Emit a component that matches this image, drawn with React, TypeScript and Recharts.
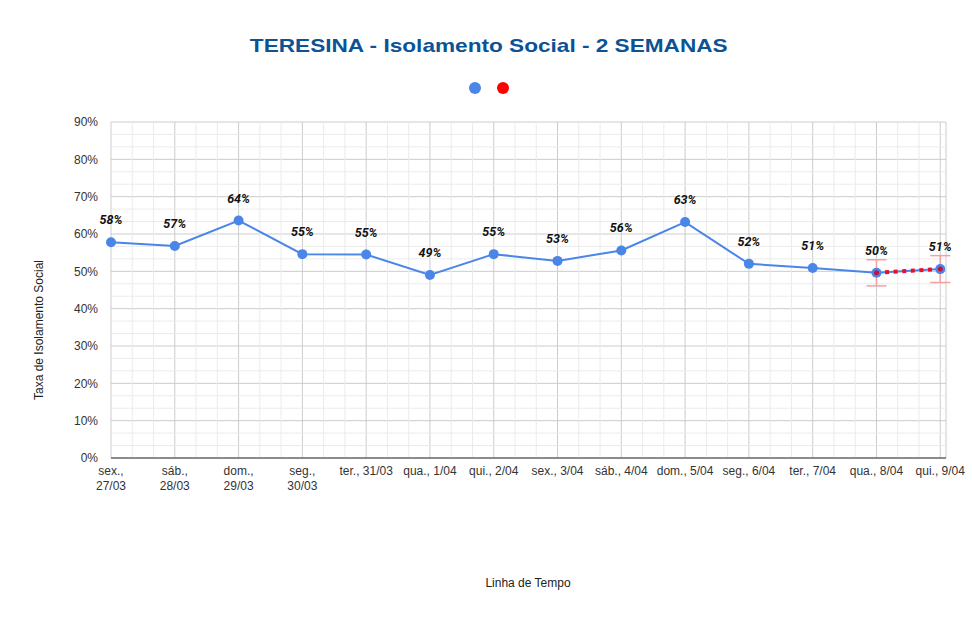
import React from 'react';
import {
  LineChart,
  Line,
  XAxis,
  YAxis,
  CartesianGrid,
  LabelList,
  ErrorBar,
  ReferenceLine,
} from 'recharts';

// Day labels (first four wrap onto two lines, as in the sheet)
const categories = [
  'sex.,\n27/03',
  'sáb.,\n28/03',
  'dom.,\n29/03',
  'seg.,\n30/03',
  'ter., 31/03',
  'qua., 1/04',
  'qui., 2/04',
  'sex., 3/04',
  'sáb., 4/04',
  'dom., 5/04',
  'seg., 6/04',
  'ter., 7/04',
  'qua., 8/04',
  'qui., 9/04',
];

// Taxa de isolamento (%)
const isolamento = [57.8, 56.8, 63.6, 54.6, 54.5, 49.0, 54.6, 52.8, 55.6, 63.2, 52.0, 50.9, 49.6, 50.6];

// Projection segment (last two days) and its error margin
const tendencia = [null, null, null, null, null, null, null, null, null, null, null, null, 49.6, 50.6];
const margemErro = [null, null, null, null, null, null, null, null, null, null, null, null, 3.5, 3.6];

const yTicks = [0, 10, 20, 30, 40, 50, 60, 70, 80, 90];

const data = categories.map((c, i) => ({
  idx: i,
  label: c,
  isolamento: isolamento[i],
  tendencia: tendencia[i],
  erro: margemErro[i],
}));

const xTicks = categories.map((_, i) => i);
// minor gridlines: two between each major line
const minorX = Array.from({ length: 40 }, (_, i) => i / 3).filter((_, i) => i % 3 !== 0);
const minorY = Array.from({ length: 28 }, (_, i) => (i * 10) / 3).filter((_, i) => i % 3 !== 0);

const BLUE = '#4a86e8';
const RED = '#ff0000';

const DayTick = ({ x, y, payload }: any) => {
  const lines = (categories[payload.value] || '').split('\n');
  return (
    <text x={x} y={y} textAnchor="middle" fill="#333" fontSize={12} fontFamily="'Liberation Sans', Arial, sans-serif">
      {lines.map((l, i) => (
        <tspan key={i} x={x} dy={i === 0 ? 9 : 15}>
          {l}
        </tspan>
      ))}
    </text>
  );
};

const App: React.FC = () => {
  return (
    <div
      style={{
        position: 'absolute',
        left: 0,
        top: 0,
        width: 972,
        height: 634,
        background: '#fff',
        fontFamily: "'Liberation Sans', Arial, sans-serif",
      }}
    >
      {/* Title */}
      <div
        style={{
          position: 'absolute',
          top: 36,
          left: 0,
          width: 972,
          textAlign: 'center',
          lineHeight: '19px',
          fontSize: 19,
          fontWeight: 'bold',
          color: '#0b5394',
        }}
      >
        <span style={{ display: 'inline-block', transform: 'scaleX(1.19)', marginLeft: 6 }}>
          TERESINA - Isolamento Social - 2 SEMANAS
        </span>
      </div>

      {/* Legend (no series names) */}
      <div style={{ position: 'absolute', top: 82, left: 469, width: 12, height: 12, borderRadius: 6, background: BLUE }} />
      <div style={{ position: 'absolute', top: 82, left: 497, width: 12, height: 12, borderRadius: 6, background: RED }} />

      <LineChart
        width={972}
        height={634}
        data={data}
        margin={{ top: 122, right: 26, bottom: 136, left: 0 }}
      >
        <CartesianGrid stroke="#cccccc" />

        <XAxis
          dataKey="idx"
          type="number"
          domain={[0, 13.09]}
          ticks={xTicks}
          interval={0}
          height={40}
          tickLine={false}
          axisLine={{ stroke: '#333' }}
          tick={<DayTick />}
        />
        <YAxis
          type="number"
          domain={[0, 90]}
          ticks={yTicks}
          width={111}
          tickLine={false}
          axisLine={false}
          tickMargin={7}
          tickFormatter={(v) => `${v}%`}
          tick={{ fill: '#333', fontSize: 12 }}
        />

        {minorX.map((v) => (
          <ReferenceLine key={`mx${v}`} x={v} stroke="#ebebeb" />
        ))}
        {minorY.map((v) => (
          <ReferenceLine key={`my${v}`} y={v} stroke="#ebebeb" />
        ))}

        <Line
          dataKey="isolamento"
          stroke={BLUE}
          strokeWidth={2}
          dot={{ r: 5, fill: BLUE, stroke: BLUE, strokeWidth: 0 }}
          isAnimationActive={false}
        >
          <LabelList
            dataKey="isolamento"
            position="top"
            offset={18}
            formatter={(v: any) => `${Math.round(v)}%`}
            style={{ fontStyle: 'italic', fontWeight: 'bold', fontSize: 12.5, fill: '#111', fontFamily: 'Roboto, sans-serif' }}
          />
        </Line>
        <Line
          dataKey="tendencia"
          stroke="#e8102a"
          strokeWidth={4}
          strokeDasharray="4 4.6"
          dot={{ r: 2.5, fill: '#c8103a', stroke: 'none' }}
          isAnimationActive={false}
        >
          <ErrorBar dataKey="erro" width={10} stroke="#f2a0a0" strokeWidth={1.5} direction="y" />
        </Line>
      </LineChart>

      {/* Axis titles */}
      <div
        style={{
          position: 'absolute',
          left: 0,
          top: 576,
          width: 1056,
          textAlign: 'center',
          fontSize: 12,
          lineHeight: '14px',
          color: '#222',
        }}
      >
        Linha de Tempo
      </div>
      <div
        style={{
          position: 'absolute',
          left: 39,
          top: 330,
          fontSize: 12,
          lineHeight: '14px',
          color: '#222',
          whiteSpace: 'nowrap',
          transform: 'translate(-50%, -50%) rotate(-90deg)',
        }}
      >
        Taxa de Isolamento Social
      </div>
    </div>
  );
};

export default App;
